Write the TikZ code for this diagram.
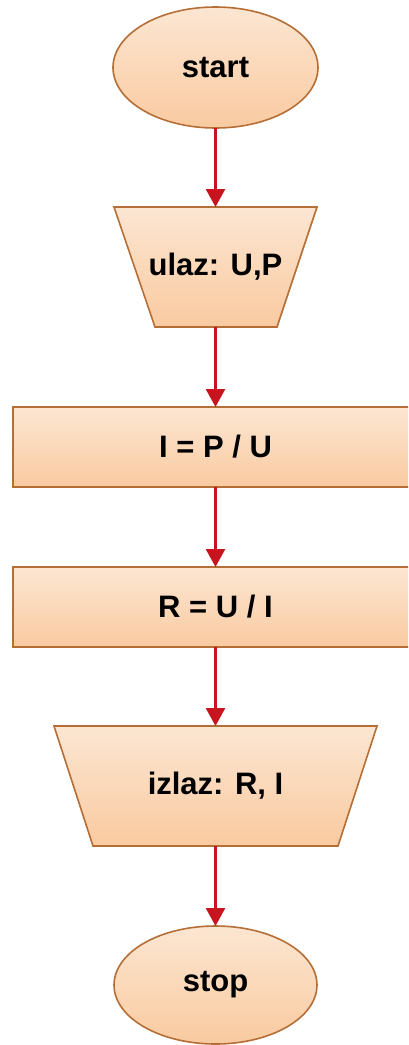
\documentclass[tikz,border=0pt]{standalone}
\usepackage{fontspec}
\setmainfont{Liberation Sans}
\usetikzlibrary{shapes.geometric,arrows.meta}
\definecolor{topfill}{RGB}{252,230,210}
\definecolor{botfill}{RGB}{249,202,160}
\definecolor{edge}{RGB}{182,110,55}
\definecolor{arrowred}{RGB}{200,20,30}
\pgfdeclarelayer{bg}
\pgfsetlayers{bg,main}
\tikzset{
  look/.style={draw=edge, line width=1.6pt, top color=topfill, bottom color=botfill},
  txt/.style={font=\fontsize{31}{36}\selectfont\bfseries, text=black, inner sep=0pt, outer sep=0pt},
  box/.style={look, txt},
  term/.style={box, ellipse},
  io/.style={txt, rectangle},
  proc/.style={box, rectangle, minimum width=405pt, minimum height=80pt},
  flow/.style={draw=arrowred, line width=2.6pt, -{Triangle[width=19pt,length=18pt]}}
}
\begin{document}
\begin{tikzpicture}[x=1pt,y=-1pt]
\useasboundingbox (0,0) rectangle (408,1045);
\clip (0,0) rectangle (408,1045);
\node[term, minimum width=205pt, minimum height=121pt] (start) at (215.5,67.5) {start};
\node[io, minimum width=203pt, minimum height=120pt] (in) at (215.5,267) {ulaz: U,P};
\node[proc] (p1) at (215.5,447) {I = P / U};
\node[proc] (p2) at (215.5,607) {R = U / I};
\node[io, minimum width=323pt, minimum height=120pt] (out) at (215.5,786) {izlaz: R, I};
\node[term, minimum width=203pt, minimum height=118pt] (stop) at (215.5,985) {stop};
\begin{pgfonlayer}{bg}
\path[look] (in.north west) -- (in.north east) -- ([xshift=-40pt]in.south east)
  -- ([xshift=41pt]in.south west) -- cycle;
\path[look] (out.north west) -- (out.north east) -- ([xshift=-39pt]out.south east)
  -- ([xshift=39pt]out.south west) -- cycle;
\end{pgfonlayer}
\draw[flow] (start.south) -- (in.north);
\draw[flow] (in.south) -- (p1.north);
\draw[flow] (p1.south) -- (p2.north);
\draw[flow] (p2.south) -- (out.north);
\draw[flow] (out.south) -- (stop.north);
\end{tikzpicture}
\end{document}
